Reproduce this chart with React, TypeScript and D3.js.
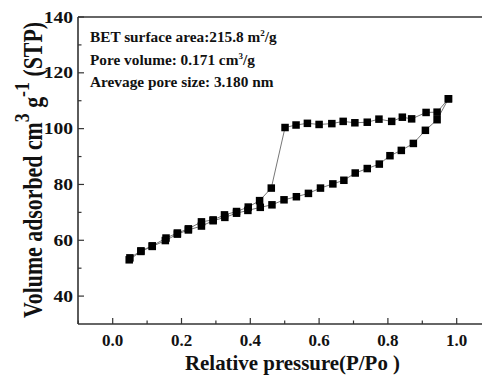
import React from "react";
import * as d3 from "d3";

const adsX = [0.048, 0.082, 0.115, 0.153, 0.188, 0.22, 0.258, 0.292, 0.326, 0.36, 0.393, 0.429, 0.463, 0.498, 0.534, 0.569, 0.604, 0.64, 0.672, 0.705, 0.74, 0.775, 0.806, 0.839, 0.874, 0.909, 0.943, 0.976];
const adsY = [53.0, 56.0, 57.8, 59.9, 62.2, 63.7, 65.1, 67.0, 68.2, 69.7, 70.7, 71.8, 72.7, 74.5, 75.6, 76.8, 78.7, 80.2, 81.5, 84.1, 85.7, 87.3, 90.3, 92.2, 94.7, 99.4, 103.2, 110.7];
const desX = [0.976, 0.943, 0.911, 0.869, 0.842, 0.811, 0.774, 0.74, 0.704, 0.67, 0.637, 0.6, 0.566, 0.533, 0.501, 0.461, 0.427, 0.394, 0.36, 0.325, 0.292, 0.258, 0.22, 0.188, 0.155, 0.115, 0.082, 0.05];
const desY = [110.7, 105.9, 105.8, 103.5, 104.1, 102.6, 103.4, 102.3, 102.1, 102.6, 101.8, 101.5, 101.9, 101.3, 100.4, 78.7, 74.2, 71.9, 70.3, 69.1, 67.3, 66.6, 64.1, 62.6, 60.8, 58.0, 56.2, 53.7];

const xTicks = [0.0, 0.2, 0.4, 0.6, 0.8, 1.0];
const xMinor = [-0.1, 0.1, 0.3, 0.5, 0.7, 0.9];
const yTicks = [40, 60, 80, 100, 120, 140];
const yMinor = [50, 70, 90, 110, 130];
const notes = ["BET surface area:215.8 m", "Pore volume: 0.171 cm", "Arevage pore size: 3.180 nm"];

export default function App() {
  const W = 482, H = 375;
  const left = 78, right = 482, top = 17, bottom = 324;
  const x = d3.scaleLinear().domain([-0.1, 1.0]).range([78.3, 456.7]);
  const y = d3.scaleLinear().domain([30, 140]).range([bottom, top]);
  const font = "Liberation Serif, serif";
  const line = d3.line<[number, number]>().x(d => x(d[0])).y(d => y(d[1]));
  const ads = adsX.map((v, i) => [v, adsY[i]] as [number, number]);
  const des = desX.map((v, i) => [v, desY[i]] as [number, number]);
  const axisColor = "#333";
  const ms = 7.5;
  const ts = { fontFamily: font } as React.CSSProperties;
  return (
    <svg width={W} height={H} style={{ position: "absolute", left: 0, top: 0, background: "#fff", fontFamily: font }}>
      <rect width={W} height={H} fill="#fff" />
      <line x1={left} x2={right} y1={top} y2={top} stroke={axisColor} strokeWidth={1.6} />
      <line x1={left} x2={right} y1={bottom} y2={bottom} stroke={axisColor} strokeWidth={1.6} />
      <line x1={left} x2={left} y1={top} y2={bottom} stroke={axisColor} strokeWidth={1.6} />
      {xTicks.map(t => (
        <g key={"xt" + t}>
          <line x1={x(t)} x2={x(t)} y1={bottom} y2={bottom - 6} stroke={axisColor} strokeWidth={1.2} />
          <text x={x(t)} y={bottom + 22} textAnchor="middle" fontSize={17} fontWeight="bold" fill="#111" style={ts}>{t.toFixed(1)}</text>
        </g>
      ))}
      {xMinor.map(t => (
        <line key={"xm" + t} x1={x(t)} x2={x(t)} y1={bottom} y2={bottom - 3.5} stroke={axisColor} strokeWidth={1.2} />
      ))}
      {yTicks.map(t => (
        <g key={"yt" + t}>
          <line x1={left} x2={left + 6} y1={y(t)} y2={y(t)} stroke={axisColor} strokeWidth={1.2} />
          <text transform={`translate(${left - 5},${y(t) + 5.5}) scale(1.15,1)`} textAnchor="end" fontSize={17} fontWeight="bold" fill="#111" style={ts}>{t}</text>
        </g>
      ))}
      {yMinor.map(t => (
        <line key={"ym" + t} x1={left} x2={left + 3.5} y1={y(t)} y2={y(t)} stroke={axisColor} strokeWidth={1.2} />
      ))}
      <path d={line(ads) || ""} fill="none" stroke="#777" strokeWidth={1} />
      <path d={line(des) || ""} fill="none" stroke="#777" strokeWidth={1} />
      {ads.map((d, i) => (
        <rect key={"a" + i} x={x(d[0]) - ms / 2} y={y(d[1]) - ms / 2} width={ms} height={ms} fill="#000" />
      ))}
      {des.map((d, i) => (
        <rect key={"d" + i} x={x(d[0]) - ms / 2} y={y(d[1]) - ms / 2} width={ms} height={ms} fill="#000" />
      ))}
      <text x={90} y={42} fontSize={15.3} fontWeight="bold" fill="#111" style={ts}>
        {notes[0]}<tspan dy={-6} fontSize={9}>2</tspan><tspan dy={6}>/g</tspan>
      </text>
      <text x={90} y={64.5} fontSize={15.3} fontWeight="bold" fill="#111" style={ts}>
        {notes[1]}<tspan dy={-6} fontSize={9}>3</tspan><tspan dy={6}>/g</tspan>
      </text>
      <text x={90} y={87} fontSize={15.3} fontWeight="bold" fill="#111" style={ts}>{notes[2]}</text>
      <text x={185} y={370} fontSize={22} fontWeight="bold" fill="#111" textLength={215} lengthAdjust="spacingAndGlyphs" style={ts}>Relative pressure(P/Po )</text>
      <text transform="translate(41.5,318) rotate(-90)" fontSize={27} fontWeight="bold" fill="#111" textLength={296} lengthAdjust="spacingAndGlyphs" style={ts}>
        Volume adsorbed cm<tspan dy={-13} fontSize={22}>3</tspan><tspan dy={13}> g</tspan><tspan dy={-13} fontSize={22}>-1</tspan><tspan dy={13}> (STP)</tspan>
      </text>
    </svg>
  );
}
